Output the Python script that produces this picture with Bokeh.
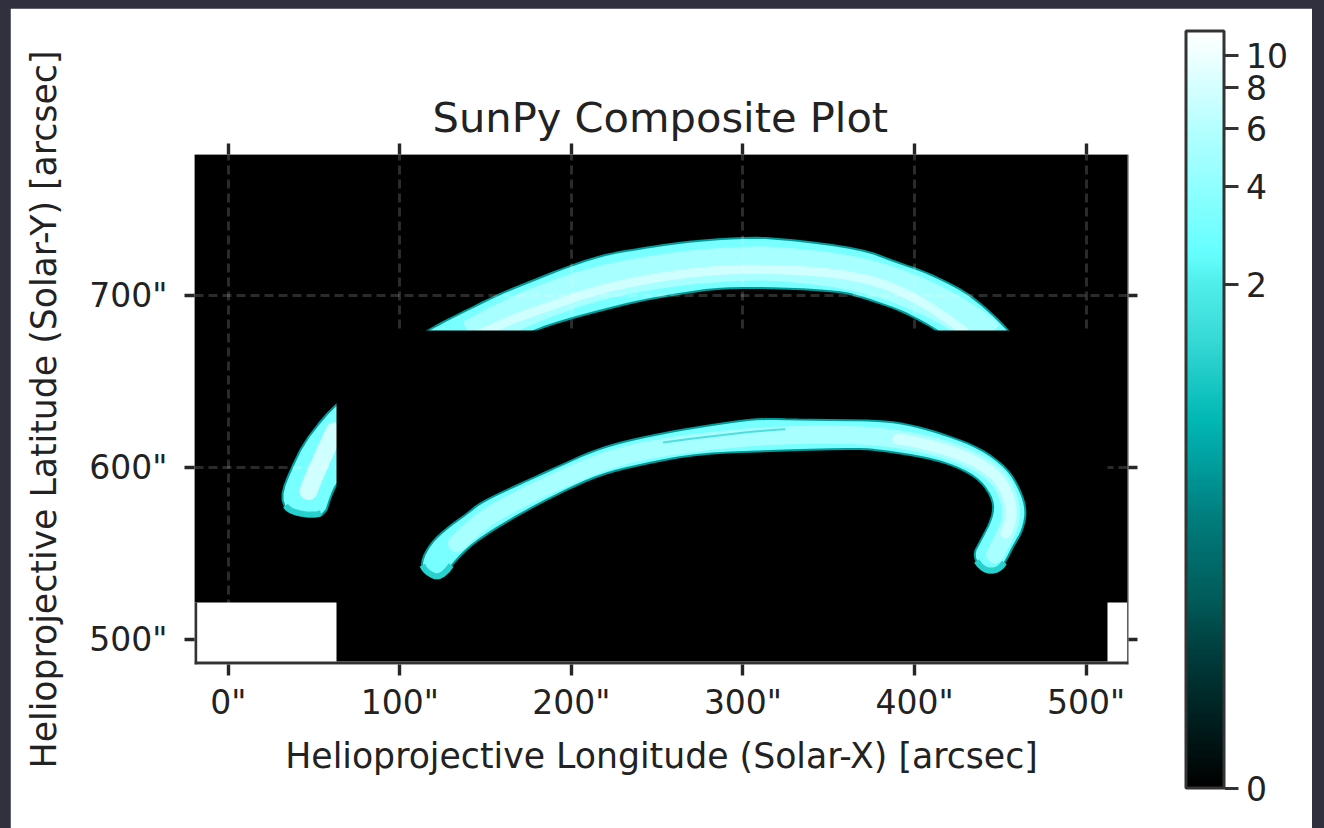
import numpy as np
from bokeh.embed import file_html
from bokeh.resources import INLINE
from bokeh.plotting import figure
from bokeh.models import (ColorBar, FixedTicker, LinearAxis, Range1d,
                          LinearColorMapper, Grid)

# ---- chart text and ticks
title_text = "SunPy Composite Plot"
x_label = "Helioprojective Longitude (Solar-X) [arcsec]"
y_label = "Helioprojective Latitude (Solar-Y) [arcsec]"
x_ticks = [0, 100, 200, 300, 400, 500]
y_ticks = [500, 600, 700]
cbar_ticks = [0, 2, 4, 6, 8, 10]
cbar_vmax = 11.85
cbar_c = 0.118

# ---- image extents (arcsec)
layer1_x = [-19.73, 524.0]
layer1_y = [521.5, 781.92]
layer2_x = [63.05, 512.5]
layer2_y = [487.1, 679.6]

# ---- emission outlines (arcsec)
upper_top_x = [95.0, 117.8, 141.2, 158.7, 182.0, 193.6, 216.9, 240.3, 263.6, 298.6, 321.9, 368.5, 390.1, 405.3, 419.3, 431.0, 444.4, 454.8, 464.0]
upper_top_y = [666.0, 680.8, 692.5, 701.1, 710.4, 715.1, 723.2, 727.3, 730.8, 733.7, 733.1, 727.3, 719.1, 714.0, 707.5, 701.1, 690.1, 679.6, 668.0]
upper_bot_x = [424.0, 413.4, 403.5, 391.8, 380.2, 368.5, 356.8, 321.9, 287.0, 263.6, 240.3, 216.9, 195.3, 177.8, 160.0]
upper_bot_y = [671.0, 679.6, 685.4, 691.2, 695.3, 699.2, 702.3, 704.3, 704.3, 701.1, 697.0, 691.2, 685.4, 679.6, 670.0]
upper_core_x = [130.0, 160.0, 182.0, 216.9, 263.6, 298.6, 321.9, 368.5, 405.3, 432.0, 450.0]
upper_core_y = [670.0, 686.0, 696.0, 708.0, 716.0, 718.5, 718.5, 713.0, 700.0, 685.0, 670.0]
upper_streak_x = [125.0, 160.0, 182.0, 216.9, 263.6, 310.0, 368.5, 405.3, 445.0]
upper_streak_y = [667.0, 684.0, 692.0, 704.0, 713.0, 716.0, 712.0, 697.0, 667.0]

lower_x = [112.0, 117.8, 127.7, 139.4, 147.0, 170.3, 193.6, 212.9, 232.7, 261.8, 291.0, 310.2, 333.5, 380.2, 399.4, 419.3, 438.6, 454.3, 461.8, 465.3, 463.0, 457.8, 454.3, 449.0, 440.2, 433.8, 438.6, 445.5, 446.1, 438.6, 426.8, 413.4, 399.4, 380.2, 368.5, 321.9, 275.2, 240.3, 216.9, 193.6, 170.3, 147.0, 133.6, 123.7, 115.0]
lower_y = [544.5, 555.8, 565.0, 573.2, 579.6, 590.6, 601.1, 609.8, 615.6, 621.5, 626.1, 628.4, 627.8, 627.3, 624.4, 618.5, 611.0, 599.4, 586.6, 574.9, 563.3, 554.6, 547.6, 538.9, 538.9, 548.8, 557.5, 570.9, 580.8, 592.4, 599.4, 604.1, 607.0, 609.8, 611.0, 609.8, 608.1, 601.7, 595.9, 585.4, 573.2, 559.2, 547.6, 534.2, 538.3]
lower_core_x = [125.0, 147.0, 170.3, 193.6, 216.9, 240.0, 275.0, 322.0, 368.5, 399.0, 426.8, 447.0, 455.0, 457.0, 450.0, 445.0]
lower_core_y = [548.0, 569.0, 582.0, 593.0, 603.0, 609.5, 615.0, 619.0, 619.0, 615.5, 608.0, 597.0, 584.0, 570.0, 555.0, 546.0]
lower_streak_x = [385.0, 399.0, 426.8, 447.0, 455.0, 457.0, 451.0]
lower_streak_y = [617.0, 615.5, 608.0, 597.0, 584.0, 570.0, 557.0]
lower_dark_x = [240.3, 275.2, 310.2, 333.5]
lower_dark_y = [612.7, 617.4, 621.4, 622.6]
lower_tip_a_x = [112.0, 115.0, 123.7, 133.6]
lower_tip_a_y = [545.5, 539.3, 535.2, 548.0]
lower_tip_b_x = [433.8, 440.2, 449.0, 454.3]
lower_tip_b_y = [549.0, 540.0, 540.0, 547.6]

small_x = [72.0, 63.05, 55.5, 43.8, 36.2, 31.6, 31.6, 36.2, 49.6, 56.6, 59.5, 63.05, 72.0]
small_y = [645.0, 636.6, 629.0, 613.9, 598.2, 586.6, 579.0, 573.2, 570.9, 573.2, 582.5, 590.6, 600.0]
small_core_x = [66.0, 55.0, 48.0, 46.0]
small_core_y = [630.0, 606.0, 590.0, 584.0]
small_tip_x = [31.6, 36.2, 49.6, 56.6]
small_tip_y = [580.0, 574.2, 572.0, 574.2]

# ---- colormap anchors: position along the bar, colour
cmap_pos = [0.0, 0.18, 0.25, 0.355, 0.447, 0.487, 0.59, 0.667, 0.71, 0.795, 0.873, 1.0]
cmap_hex = ["#000000", "#003e3e", "#005c5a", "#007c7c", "#00a6a6", "#00b8b4", "#35d8d5", "#50eeeb", "#66ffff", "#8fffff", "#b5ffff", "#ffffff"]

FONT = "DejaVu Sans"
PAGE_BG = "#30303e"
SPINE = "#333333"
INK = "#222222"
TEAL = "#009c9a"
TIP = "#28d0ce"
BODY = "#78ffff"
CORE = "#a8ffff"
STREAK = "#d0ffff"


def rounded(xs, ys, closed=False, passes=2):
    """Corner-cutting, only to draw the read outline as a round curve."""
    pts = np.column_stack([xs, ys])
    for _ in range(passes):
        a = pts if closed else pts[:-1]
        b = np.roll(pts, -1, axis=0) if closed else pts[1:]
        q = np.empty((2 * len(a), 2))
        q[0::2] = 0.75 * a + 0.25 * b
        q[1::2] = 0.25 * a + 0.75 * b
        pts = q
    return pts[:, 0].tolist(), pts[:, 1].tolist()


p = figure(frame_width=934, frame_height=510, output_backend="svg", toolbar_location=None,
           x_range=Range1d(-19.73, 524.75), y_range=Range1d(485.41, 781.92),
           min_border_left=184, min_border_right=184, min_border_top=146, min_border_bottom=164,
           background_fill_color="white", border_fill_color="white",
           outline_line_color=None, margin=(8, 0, 0, 10),
           x_axis_type=None, y_axis_type=None)

# layer 1: the image below the grid
p.quad(left=[layer1_x[0]], right=[layer1_x[1]], bottom=[layer1_y[0]], top=[layer1_y[1]],
       fill_color="black", line_color=None, level="image")
ux, uy = rounded(upper_top_x + upper_bot_x, upper_top_y + upper_bot_y, closed=True)
p.patch(ux, uy, fill_color=BODY, line_color=TEAL, line_width=2, level="image")
sx, sy = rounded(small_x, small_y, closed=True, passes=1)
p.patch(sx, sy, fill_color=BODY, line_color=TEAL, line_width=2, level="image")
p.line(*rounded(small_tip_x, small_tip_y), line_color=TIP, line_width=6, level="image")
p.line(*rounded(upper_core_x, upper_core_y), line_color=CORE, line_width=34, level="image")
p.line(*rounded(upper_streak_x, upper_streak_y), line_color=STREAK, line_width=9, level="image")
p.line(*rounded(small_core_x, small_core_y), line_color=STREAK, line_width=18, line_cap="round", level="image")

# grid between the layers
tick_kw = dict(major_tick_line_color="black", major_tick_line_alpha=0.85, major_tick_line_width=3.4,
               major_tick_in=0, axis_line_color=None, minor_tick_line_color=None,
               major_label_text_font=FONT, major_label_text_font_size="33px",
               major_label_text_color=INK)


def axis(ticks, out, **kw):
    return LinearAxis(ticker=FixedTicker(ticks=ticks), major_tick_out=out, **tick_kw, **kw)


bottom = axis(x_ticks, 11, axis_label=x_label, axis_label_text_font=FONT, axis_label_text_font_size="34.7px",
              axis_label_text_font_style="normal", axis_label_text_color=INK,
              axis_label_standoff=11, major_label_standoff=7,
              major_label_overrides={t: f'{t}"' for t in x_ticks})
left = axis(y_ticks, 10, axis_label=y_label, axis_label_text_font=FONT, axis_label_text_font_size="34.7px",
            axis_label_text_font_style="normal", axis_label_text_color=INK,
            axis_label_standoff=22, major_label_standoff=17, major_label_orientation="horizontal",
            major_label_overrides={t: f'{t}"' for t in y_ticks})
top = axis(x_ticks, 11, major_label_overrides={t: "" for t in x_ticks})
right = axis(y_ticks, 9, major_label_overrides={t: "" for t in y_ticks})
p.add_layout(bottom, "below")
p.add_layout(left, "left")
p.add_layout(top, "above")
p.add_layout(right, "right")

for dim, ticker in ((0, x_ticks), (1, y_ticks)):
    p.add_layout(Grid(dimension=dim, ticker=FixedTicker(ticks=ticker), grid_line_color="#ffffff",
                      grid_line_alpha=0.17, grid_line_width=3, grid_line_dash="9 5", level="underlay"))

# layer 2: covers the grid and part of layer 1
p.quad(left=[layer2_x[0]], right=[layer2_x[1]], bottom=[layer2_y[0]], top=[layer2_y[1]],
       fill_color="black", line_color=None)
lx, ly = rounded(lower_x, lower_y, closed=True)
p.patch(lx, ly, fill_color=BODY, line_color=TEAL, line_width=2)
p.line(*rounded(lower_tip_a_x, lower_tip_a_y), line_color=TIP, line_width=6)
p.line(*rounded(lower_tip_b_x, lower_tip_b_y), line_color=TIP, line_width=6)
p.line(*rounded(lower_core_x, lower_core_y), line_color=CORE, line_width=18, line_cap="round")
p.line(*rounded(lower_streak_x, lower_streak_y), line_color=STREAK, line_width=11, line_cap="round")
p.line(*rounded(lower_dark_x, lower_dark_y), line_color=TIP, line_width=2, line_alpha=0.7)

# spines: bottom and right over the white page, left beside the white corners
dx = 2.7 / 1.7154
dy = 2.9 / 1.72
p.quad(left=[-19.73, layer1_x[1], -19.73], right=[524.75, 524.75, -19.73 + dx],
       bottom=[485.41, 485.41, 485.41], top=[485.41 + dy, 781.92, layer1_y[0]],
       fill_color=SPINE, line_color=None)

# colour bar
xs = np.linspace(0, 1, 256)
rgb = np.array([[int(h[i:i + 2], 16) for i in (1, 3, 5)] for h in cmap_hex], float)
palette = ["#%02x%02x%02x" % tuple(int(round(np.interp(x, cmap_pos, rgb[:, k]))) for k in range(3)) for x in xs]
norm = lambda v: round(float(np.arcsinh(v / cbar_c) / np.arcsinh(cbar_vmax / cbar_c)), 6)
mapper = LinearColorMapper(palette=palette, low=0, high=1)
cb = ColorBar(color_mapper=mapper, location=(991.5, -123.5), width=38, height=757, padding=0,
              ticker=FixedTicker(ticks=[norm(t) for t in cbar_ticks]),
              major_label_overrides={norm(t): str(t) for t in cbar_ticks},
              major_label_text_font=FONT, major_label_text_font_size="33px",
              major_label_text_color=INK, label_standoff=8,
              major_tick_in=0, major_tick_out=14, major_tick_line_color=SPINE, major_tick_line_width=3,
              minor_tick_line_color=None,
              bar_line_color=SPINE, bar_line_width=3, border_line_color=None,
              background_fill_color=None)
p.add_layout(cb, "center")

p.title.text = title_text
p.title.text_font = FONT
p.title.text_font_size = "41.6px"
p.title.text_font_style = "normal"
p.title.text_color = INK
p.title.align = "left"
p.title.offset = 238
p.title.standoff = 3

html = file_html(p, INLINE)
html = html.replace("<head>", "<head><style>html,body{background:%s;margin:0;padding:0;overflow:hidden}</style>" % PAGE_BG, 1)
open("out.html", "w").write(html)
